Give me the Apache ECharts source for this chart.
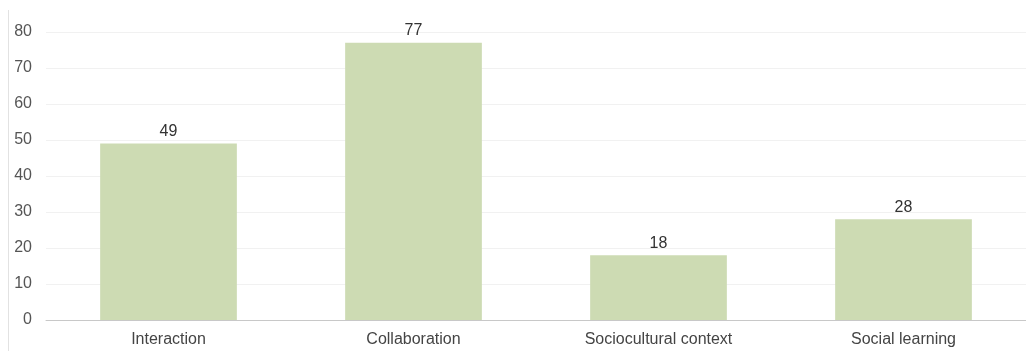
<!DOCTYPE html>
<html>
<head>
<meta charset="utf-8">
<script src="https://cdn.jsdelivr.net/npm/echarts@6/dist/echarts.min.js"></script>
<style>
  html, body { margin: 0; padding: 0; background: #fff; }
  #chart { width: 1026px; height: 351px; }
</style>
</head>
<body>
<div id="chart"></div>
<script>
// Counts per theme
const categories = ['Interaction', 'Collaboration', 'Sociocultural context', 'Social learning'];
const counts = [49, 77, 18, 28];
const yTicks = { min: 0, max: 80, interval: 10 };

const chart = echarts.init(document.getElementById('chart'), null, { renderer: 'canvas' });
const font = 'Liberation Sans, Arial, Helvetica, sans-serif';

chart.setOption({
  animation: false,
  backgroundColor: '#ffffff',
  graphic: [{
    type: 'line',
    shape: { x1: 8.5, y1: 10, x2: 8.5, y2: 351 },
    style: { stroke: '#e2e2e2', lineWidth: 1 }
  }],
  grid: { left: 46, width: 983, top: 32, bottom: 31, containLabel: false },
  xAxis: {
    type: 'category',
    data: categories,
    axisLine: { lineStyle: { color: '#c8c8c8', width: 1 } },
    axisTick: { show: false },
    axisLabel: { color: '#444', fontSize: 16, fontFamily: font, margin: 12 }
  },
  yAxis: {
    type: 'value',
    min: yTicks.min,
    max: yTicks.max,
    interval: yTicks.interval,
    axisLine: { show: false },
    axisTick: { show: false },
    axisLabel: { color: '#555', fontSize: 16, fontFamily: font, margin: 14 },
    splitLine: { lineStyle: { color: '#f1f1f1', width: 1 } }
  },
  series: [{
    type: 'bar',
    data: counts,
    barWidth: '55.8%',
    itemStyle: { color: '#cddbb3' },
    label: {
      show: true,
      position: 'top',
      distance: 4,
      color: '#333',
      fontSize: 16,
      fontFamily: font
    }
  }]
});
</script>
</body>
</html>
